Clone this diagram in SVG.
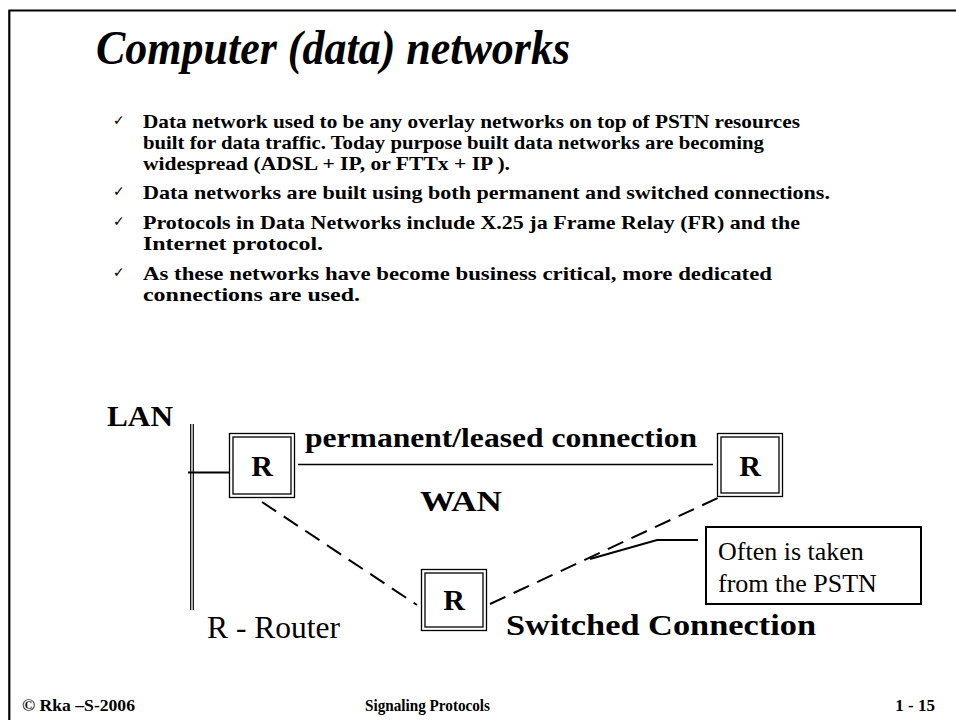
<svg xmlns="http://www.w3.org/2000/svg" width="956" height="720" viewBox="0 0 956 720">
<style>
.frame{stroke:#000;stroke-width:2.2;fill:none}
.title{font-family:"Liberation Serif",serif;font-weight:bold;font-style:italic;font-size:48px;fill:#000}
.bul{font-family:"Liberation Serif",serif;font-weight:bold;font-size:19px;fill:#000}
.chk{font-family:"DejaVu Sans",sans-serif;font-size:14px;fill:#000}
.lbl{font-family:"Liberation Serif",serif;font-weight:bold;fill:#000}
.reg{font-family:"Liberation Serif",serif;fill:#000}
.foot{font-family:"Liberation Serif",serif;font-weight:bold;font-size:17px;fill:#000}
.box{fill:#fff;stroke:#000;stroke-width:1.3}
.solid{stroke:#000;fill:none}
.dash{stroke:#000;stroke-width:2;stroke-dasharray:17 9;fill:none}
</style>
<rect width="956" height="720" fill="#fff"/>
<path class="frame" d="M8.5 10.5 H956 M9.3 10 V720"/>
<text class="title" x="96" y="64" textLength="474" lengthAdjust="spacingAndGlyphs">Computer (data) networks</text>
<g id="bullets">
<text class="chk" x="113" y="125">✓</text>
<text class="bul" x="143" y="128" textLength="657" lengthAdjust="spacingAndGlyphs">Data network used to be any overlay networks on top of PSTN resources</text>
<text class="bul" x="143" y="149" textLength="621" lengthAdjust="spacingAndGlyphs">built for data traffic. Today purpose built data networks are becoming</text>
<text class="bul" x="143" y="170" textLength="367" lengthAdjust="spacingAndGlyphs">widespread (ADSL + IP, or FTTx + IP ).</text>
<text class="chk" x="113" y="196">✓</text>
<text class="bul" x="143" y="199" textLength="687" lengthAdjust="spacingAndGlyphs">Data networks are built using both permanent and switched connections.</text>
<text class="chk" x="113" y="226">✓</text>
<text class="bul" x="143" y="229" textLength="657" lengthAdjust="spacingAndGlyphs">Protocols in Data Networks include X.25 ja Frame Relay (FR) and the</text>
<text class="bul" x="143" y="250" textLength="180" lengthAdjust="spacingAndGlyphs">Internet protocol.</text>
<text class="chk" x="113" y="277">✓</text>
<text class="bul" x="143" y="280" textLength="629" lengthAdjust="spacingAndGlyphs">As these networks have become business critical, more dedicated</text>
<text class="bul" x="143" y="301" textLength="217" lengthAdjust="spacingAndGlyphs">connections are used.</text>
</g>
<g id="connectors">
<line class="solid" x1="188" y1="472.5" x2="229" y2="472.5" stroke-width="2"/>
<line class="solid" x1="298" y1="464.5" x2="713" y2="464.5" stroke-width="1.3"/>
<line class="dash" x1="262" y1="502" x2="417" y2="605"/>
<line class="dash" x1="490" y1="604" x2="722" y2="496"/>
<polyline class="solid" points="590,559 657,540 698,540" stroke-width="2"/>
</g>
<g id="lan">
<text class="lbl" x="107" y="426" font-size="30" textLength="66" lengthAdjust="spacingAndGlyphs">LAN</text>
<line class="solid" x1="190.7" y1="424" x2="190.7" y2="610" stroke-width="1.2"/>
<line class="solid" x1="193.3" y1="424" x2="193.3" y2="610" stroke-width="1.2"/>
</g>
<g id="router1">
<rect class="box" x="229.5" y="433.5" width="65" height="64"/>
<rect class="box" x="233" y="437" width="58" height="57"/>
<text class="lbl" x="262" y="476" font-size="30" text-anchor="middle">R</text>
</g>
<g id="router2">
<rect class="box" x="717.5" y="433.5" width="65" height="63"/>
<rect class="box" x="721" y="437" width="58" height="56"/>
<text class="lbl" x="750" y="476" font-size="30" text-anchor="middle">R</text>
</g>
<g id="router3">
<rect class="box" x="421.5" y="569.5" width="65" height="61"/>
<rect class="box" x="425" y="573" width="58" height="54"/>
<text class="lbl" x="454" y="610" font-size="30" text-anchor="middle">R</text>
</g>
<g id="labels">
<text class="lbl" x="305" y="447" font-size="28" textLength="392" lengthAdjust="spacingAndGlyphs">permanent/leased connection</text>
<text class="lbl" x="420" y="511" font-size="30" textLength="82" lengthAdjust="spacingAndGlyphs">WAN</text>
<text class="lbl" x="506" y="635" font-size="29" textLength="310" lengthAdjust="spacingAndGlyphs">Switched Connection</text>
<text class="reg" x="207" y="638" font-size="31" textLength="133" lengthAdjust="spacingAndGlyphs">R - Router</text>
</g>
<g id="callout">
<rect x="706" y="527" width="215" height="77" fill="#fff" stroke="#000" stroke-width="2"/>
<text class="reg" x="718" y="560" font-size="26">Often is taken</text>
<text class="reg" x="718" y="592" font-size="26">from the PSTN</text>
</g>
<g id="footer">
<text class="foot" x="22" y="711" textLength="113" lengthAdjust="spacingAndGlyphs">© Rka –S-2006</text>
<text class="foot" x="365" y="711" textLength="125" lengthAdjust="spacingAndGlyphs">Signaling Protocols</text>
<text class="foot" x="935" y="711" text-anchor="end">1 - 15</text>
</g>
</svg>
